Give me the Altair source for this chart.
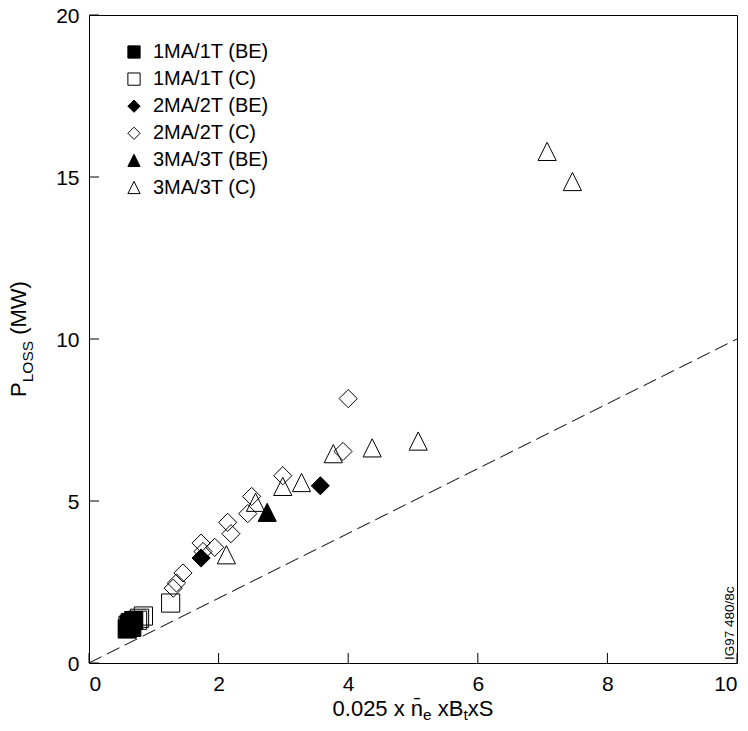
import altair as alt
import pandas as pd

FONT = "Liberation Sans"

# ---- data ----
series_names = ["1MA/1T (BE)", "1MA/1T (C)", "2MA/2T (BE)", "2MA/2T (C)", "3MA/3T (BE)", "3MA/3T (C)"]

x_1be = [0.59, 0.62, 0.66, 0.69, 0.64]
y_1be = [1.05, 1.20, 1.10, 1.31, 1.25]

x_1c = [0.60, 0.75, 0.78, 0.84, 1.26]
y_1c = [1.15, 1.32, 1.38, 1.45, 1.85]

x_2be = [1.73, 3.57]
y_2be = [3.24, 5.47]

x_2c = [4.00, 3.92, 2.99, 2.51, 2.45, 2.14, 2.19, 1.94, 1.73, 1.76, 1.45, 1.35, 1.30]
y_2c = [8.16, 6.53, 5.78, 5.14, 4.61, 4.34, 3.99, 3.57, 3.70, 3.44, 2.78, 2.47, 2.31]

x_3be = [2.75]
y_3be = [4.65]

x_3c = [7.07, 7.46, 5.08, 4.37, 3.77, 3.28, 2.99, 2.57, 2.12]
y_3c = [15.79, 14.86, 6.85, 6.64, 6.46, 5.57, 5.45, 4.96, 3.34]

ref_x = [0, 10]
ref_y = [0, 10]

x_ticks = [0, 2, 4, 6, 8, 10]
y_ticks = [0, 5, 10, 15, 20]

# ---- build table ----
xs = [x_1be, x_1c, x_2be, x_2c, x_3be, x_3c]
ys = [y_1be, y_1c, y_2be, y_2c, y_3be, y_3c]
rows = []
for name, xv, yv in zip(series_names, xs, ys):
    for a, b in zip(xv, yv):
        rows.append({"series": name, "x": a, "y": b})
df = pd.DataFrame(rows)

W, H = 648, 648
SQ = "M-1,-1L1,-1L1,1L-1,1Z"
DI = "M-1,0L0,-1L1,0L0,1Z"
TR = "M0,-1L1,1L-1,1Z"
shapes = [SQ, SQ, DI, DI, TR, TR]
fills = ["black", "transparent", "black", "transparent", "black", "transparent"]

xscale = alt.Scale(domain=[0, 10], nice=False, zero=False)
yscale = alt.Scale(domain=[0, 20], nice=False, zero=False)

xaxis = alt.Axis(values=x_ticks, title=None, ticks=False, tickSize=0, grid=False, domain=False,
                 labelFontSize=21, labelFont=FONT, labelColor="black", labelPadding=10)
yaxis = alt.Axis(values=y_ticks, title=None, ticks=False, tickSize=0, grid=False, domain=False,
                 labelFontSize=21, labelFont=FONT, labelColor="black", labelPadding=10,
                 labelOffset=1.5)

leg = alt.Legend(
    orient="none", legendX=35, legendY=27, title=None,
    labelFontSize=20, labelFont=FONT, labelColor="black",
    symbolSize=150, symbolStrokeColor="black", symbolStrokeWidth=1,
    rowPadding=7.1, labelOffset=9, padding=0, labelLimit=300,
)

points = alt.Chart(df).mark_point(
    filled=True, strokeWidth=1, opacity=1, size=330
).encode(
    x=alt.X("x:Q", scale=xscale, axis=xaxis),
    y=alt.Y("y:Q", scale=yscale, axis=yaxis),
    shape=alt.Shape("series:N", scale=alt.Scale(domain=series_names, range=shapes), legend=leg),
    fill=alt.Fill("series:N", scale=alt.Scale(domain=series_names, range=fills), legend=leg),
    stroke=alt.Stroke("series:N", scale=alt.Scale(domain=series_names, range=["black"] * 6), legend=leg),
)

ref_line = alt.Chart(pd.DataFrame({"x": ref_x, "y": ref_y})).mark_line(
    color="black", strokeWidth=1, strokeDash=[14, 6]
).encode(x=alt.X("x:Q", scale=xscale, axis=xaxis), y=alt.Y("y:Q", scale=yscale, axis=yaxis))

TICK = 10
xt = alt.Chart(pd.DataFrame({"x": x_ticks})).mark_rule(color="black", strokeWidth=1).encode(
    x=alt.X("x:Q", scale=xscale, axis=xaxis), y=alt.value(H), y2=alt.value(H - TICK))
yt = alt.Chart(pd.DataFrame({"y": y_ticks})).mark_rule(color="black", strokeWidth=1).encode(
    y=alt.Y("y:Q", scale=yscale, axis=yaxis), x=alt.value(0), x2=alt.value(TICK))

# ---- titles with sub/overscripts ----
CW = {'0': .556, '1': .556, '2': .556, '5': .556, '.': .278, ' ': .278, 'x': .5, 'n': .556,
      'e': .556, 'B': .667, 't': .278, 'S': .667, 'P': .667, 'L': .556, 'O': .778,
      '(': .333, ')': .333, 'M': .833, 'W': .944, '\u0304': 0}


def tw(s, fs):
    return sum(CW[c] for c in s) * fs


def txt(s, x, y, fs, angle=0, baseline="alphabetic"):
    return alt.Chart(pd.DataFrame({"k": [0]})).mark_text(
        text=s, fontSize=fs, font=FONT, angle=angle, align="left",
        baseline=baseline, color="black"
    ).encode(x=alt.value(x), y=alt.value(y))


FS, SFS = 22, 15.5
SP = 0.278 * FS
# (text, font size, baseline shift, gap before)
xpieces = [("0.025 x", FS, 0, 0), ("n\u0304", FS, 0, SP), ("e", SFS, 4, 0),
           ("xB", FS, 0, SP), ("t", SFS, 4, 0), ("xS", FS, 0, 0)]
total = sum(tw(s, f) + g for s, f, _, g in xpieces)
cx = W / 2 - total / 2
xtitle = []
for s, f, d, g in xpieces:
    cx += g
    xtitle.append(txt(s, cx, 701 + d, f))
    cx += tw(s, f)

ypieces = [("P", FS, 0, 0), ("LOSS", SFS, 7, 0), ("(MW)", FS, 0, SP)]
total = sum(tw(s, f) + g for s, f, _, g in ypieces)
cy = H / 2 + total / 2
ytitle = []
for s, f, d, g in ypieces:
    cy -= g
    ytitle.append(txt(s, -62.6 + d, cy, f, angle=270))
    cy -= tw(s, f)

tag = txt("IG97 480/8c", 645, 645, 13.5, angle=270)

chart = alt.layer(
    points, ref_line, xt, yt, *xtitle, *ytitle, tag
).properties(
    width=W, height=H,
    padding={"left": 81, "top": 7, "right": 3, "bottom": 60},
    autosize=alt.AutoSizeParams(type="none"),
).configure(
    font=FONT
).configure_view(
    stroke="black", strokeWidth=1
)

chart.save("out.html", embed_options={"renderer": "svg", "actions": False})
